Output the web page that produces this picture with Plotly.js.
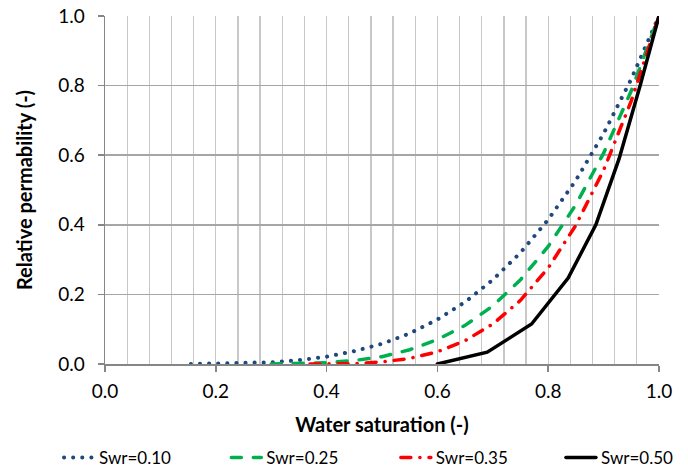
<!DOCTYPE html>
<html>
<head>
<meta charset="utf-8">
<script src="https://cdn.plot.ly/plotly-3.0.1.min.js"></script>
<style>
  html, body { margin: 0; padding: 0; background: #ffffff; }
  #chart { width: 688px; height: 468px; }
  path.js-line { stroke-linecap: round; }
  .cartesianlayer .plot { clip-path: none !important; }
</style>
</head>
<body>
<div id="chart"></div>
<script>
// Series names
var seriesNames = ["Swr=0.10", "Swr=0.25", "Swr=0.35", "Swr=0.50"];

// Swr = 0.10
var swr10X = [0.155, 0.2, 0.25, 0.3, 0.35, 0.4, 0.45, 0.5, 0.55, 0.6, 0.65, 0.7, 0.75, 0.8, 0.85, 0.9, 0.95, 1.0];
var swr10Y = [0.000, 0.001, 0.002, 0.005, 0.011, 0.021, 0.037, 0.058, 0.088, 0.128, 0.178, 0.242, 0.320, 0.415, 0.528, 0.662, 0.819, 1.0];

// Swr = 0.25
var swr25X = [0.3, 0.35, 0.4, 0.45, 0.5, 0.55, 0.6, 0.65, 0.7, 0.75, 0.8, 0.85, 0.9, 0.95, 1.0];
var swr25Y = [0.000, 0.001, 0.004, 0.010, 0.021, 0.041, 0.070, 0.111, 0.167, 0.242, 0.338, 0.458, 0.606, 0.785, 1.0];

// Swr = 0.35
var swr35X = [0.37, 0.4, 0.45, 0.5, 0.55, 0.6, 0.65, 0.7, 0.75, 0.8, 0.85, 0.9, 0.95, 1.0];
var swr35Y = [0.000, 0.000, 0.001, 0.006, 0.016, 0.035, 0.067, 0.115, 0.183, 0.276, 0.399, 0.557, 0.756, 1.0];

// Swr = 0.50
var swr50X = [0.6, 0.69, 0.77, 0.836, 0.886, 0.928, 0.966, 1.0];
var swr50Y = [0.000, 0.034, 0.115, 0.247, 0.400, 0.590, 0.800, 1.0];

// Axis ticks
var tickVals = [0.0, 0.2, 0.4, 0.6, 0.8, 1.0];
var tickText = ["0.0", "0.2", "0.4", "0.6", "0.8", "1.0"];

var FONT = "Lato, 'Open Sans', sans-serif";

var traces = [
  {x: swr10X, y: swr10Y, name: seriesNames[0], mode: "lines", legend: "legend",
   line: {color: "#1F497D", width: 4, dash: "0.1px,9px"}},
  {x: swr25X, y: swr25Y, name: seriesNames[1], mode: "lines", legend: "legend2",
   line: {color: "#00B050", width: 3.5, dash: "10px,12px"}},
  {x: swr35X, y: swr35Y, name: seriesNames[2], mode: "lines", legend: "legend3",
   line: {color: "#FF0000", width: 3.5, dash: "10px,9px,0.1px,9px"}},
  {x: swr50X, y: swr50Y, name: seriesNames[3], mode: "lines", legend: "legend4",
   line: {color: "#000000", width: 3.5}}
];

function legendAt(xFrac) {
  return {
    orientation: "h", x: xFrac, xanchor: "left", y: -0.27, yanchor: "middle",
    font: {family: FONT, size: 17, color: "#000000"},
    bgcolor: "rgba(0,0,0,0)"
  };
}

var layout = {
  width: 688, height: 468,
  margin: {l: 105, r: 29, t: 16, b: 104, autoexpand: false},
  paper_bgcolor: "#ffffff", plot_bgcolor: "#ffffff",
  font: {family: FONT, size: 19, color: "#000000"},
  showlegend: true,
  legend: legendAt(-0.083),
  legend2: legendAt(0.219),
  legend3: legendAt(0.525),
  legend4: legendAt(0.823),
  xaxis: {
    range: [0, 1], tickvals: tickVals, ticktext: tickText,
    ticks: "outside", ticklen: 6, tickwidth: 1.5, tickcolor: "#868686",
    ticklabelstandoff: 4,
    showline: true, linecolor: "#868686", linewidth: 1.5,
    showgrid: true, gridcolor: "#c8c8c8", gridwidth: 1.3,
    minor: {dtick: 0.04, showgrid: true, gridcolor: "#c8c8c8", gridwidth: 1.3, ticks: ""},
    zeroline: false, layer: "below traces",
    tickfont: {family: FONT, size: 19},
    title: {text: "<b>Water saturation (-)</b>", font: {family: FONT, size: 20}, standoff: 16}
  },
  yaxis: {
    range: [0, 1], tickvals: tickVals, ticktext: tickText,
    ticks: "outside", ticklen: 6, tickwidth: 1.5, tickcolor: "#868686",
    ticklabelstandoff: 9,
    showline: true, linecolor: "#868686", linewidth: 1.5,
    showgrid: true, gridcolor: "#a6a6a6", gridwidth: 1.5,
    zeroline: false, layer: "below traces",
    tickfont: {family: FONT, size: 19},
    title: {text: "<b>Relative permability (-)</b>", font: {family: FONT, size: 20}, standoff: 20}
  }
};

Plotly.newPlot("chart", traces, layout, {displayModeBar: false, staticPlot: true});
</script>
</body>
</html>
